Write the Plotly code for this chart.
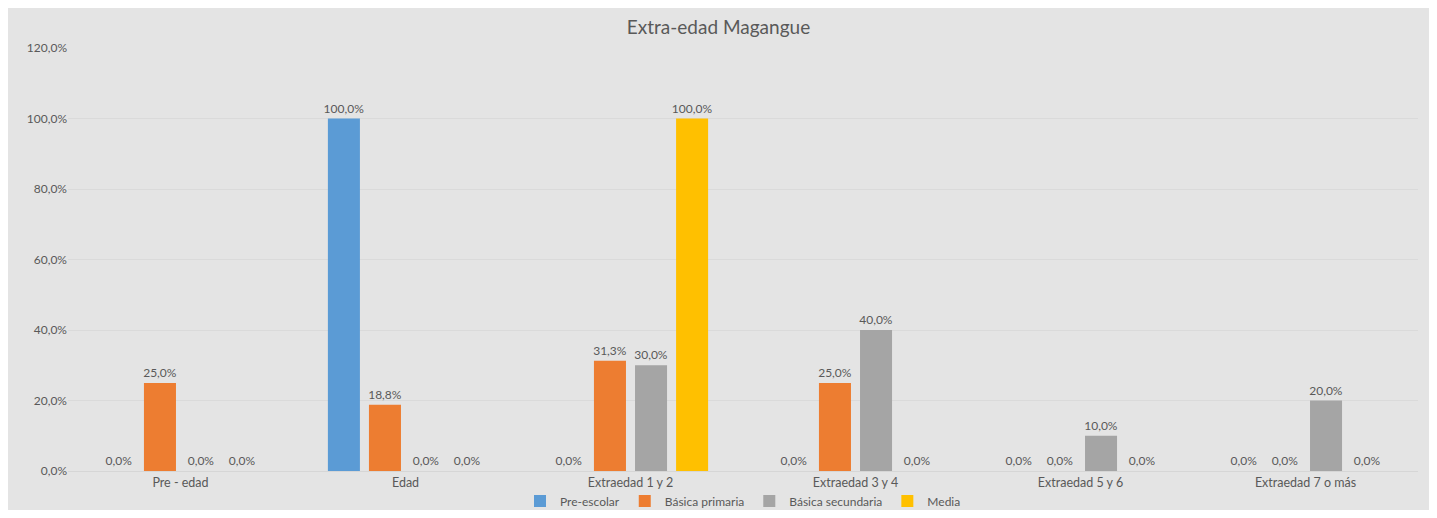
import plotly.graph_objects as go

categories = ["Pre - edad", "Edad", "Extraedad 1 y 2", "Extraedad 3 y 4", "Extraedad 5 y 6", "Extraedad 7 o más"]
series_names = ["Pre-escolar", "Básica primaria", "Básica secundaria", "Media"]
pre_escolar = [0.0, 100.0, 0.0, 0.0, 0.0, 0.0]
basica_primaria = [25.0, 18.8, 31.3, 25.0, 0.0, 0.0]
basica_secundaria = [0.0, 0.0, 30.0, 40.0, 10.0, 20.0]
media = [0.0, 0.0, 100.0, 0.0, 0.0, 0.0]
colors = ["#5B9BD5", "#ED7D31", "#A5A5A5", "#FFC000"]
y_ticks = [0, 20, 40, 60, 80, 100, 120]

BG = "#e4e4e4"
TXT = "#595959"
FONT = "Lato"

def pct(v):
    return f"{v:.1f}%".replace(".", ",")

fig = go.Figure()
for name, vals, col in zip(series_names, [pre_escolar, basica_primaria, basica_secundaria, media], colors):
    fig.add_trace(go.Bar(
        name=name, x=categories, y=vals, marker_color=col,
        marker_line_width=0,
        text=[pct(v) for v in vals],
        textposition="outside", cliponaxis=False, constraintext="none",
        textfont=dict(family=FONT, size=12, color=TXT),
    ))

fig.update_layout(
    width=1421, height=502,
    margin=dict(l=60, r=11, t=40, b=39, autoexpand=False),
    paper_bgcolor=BG, plot_bgcolor=BG,
    barmode="group", bargap=0.27, bargroupgap=0.22,
    separators=",.",
    title=dict(text="Extra-edad Magangue", x=0.5, xanchor="center", y=1 - 19 / 502, yanchor="middle",
               font=dict(family=FONT, size=19, color=TXT)),
    font=dict(family=FONT, size=12, color=TXT),
    showlegend=True,
    legend=dict(orientation="h", x=0.5, xanchor="center", y=-0.071, yanchor="middle",
                font=dict(family=FONT, size=12, color=TXT), bgcolor="rgba(0,0,0,0)",
                itemwidth=30, traceorder="normal"),
    xaxis=dict(showgrid=False, showline=True, linecolor="#d6d6d6", linewidth=1,
               ticks="", tickfont=dict(family=FONT, size=12.5, color=TXT)),
    yaxis=dict(range=[0, 120], tickmode="array", tickvals=y_ticks, ticktext=[pct(t) for t in y_ticks],
               showgrid=True, gridcolor="#dadada", gridwidth=1, zeroline=False,
               showline=False, ticks="", tickfont=dict(family=FONT, size=12, color=TXT)),
)

fig.write_html("out.html")
